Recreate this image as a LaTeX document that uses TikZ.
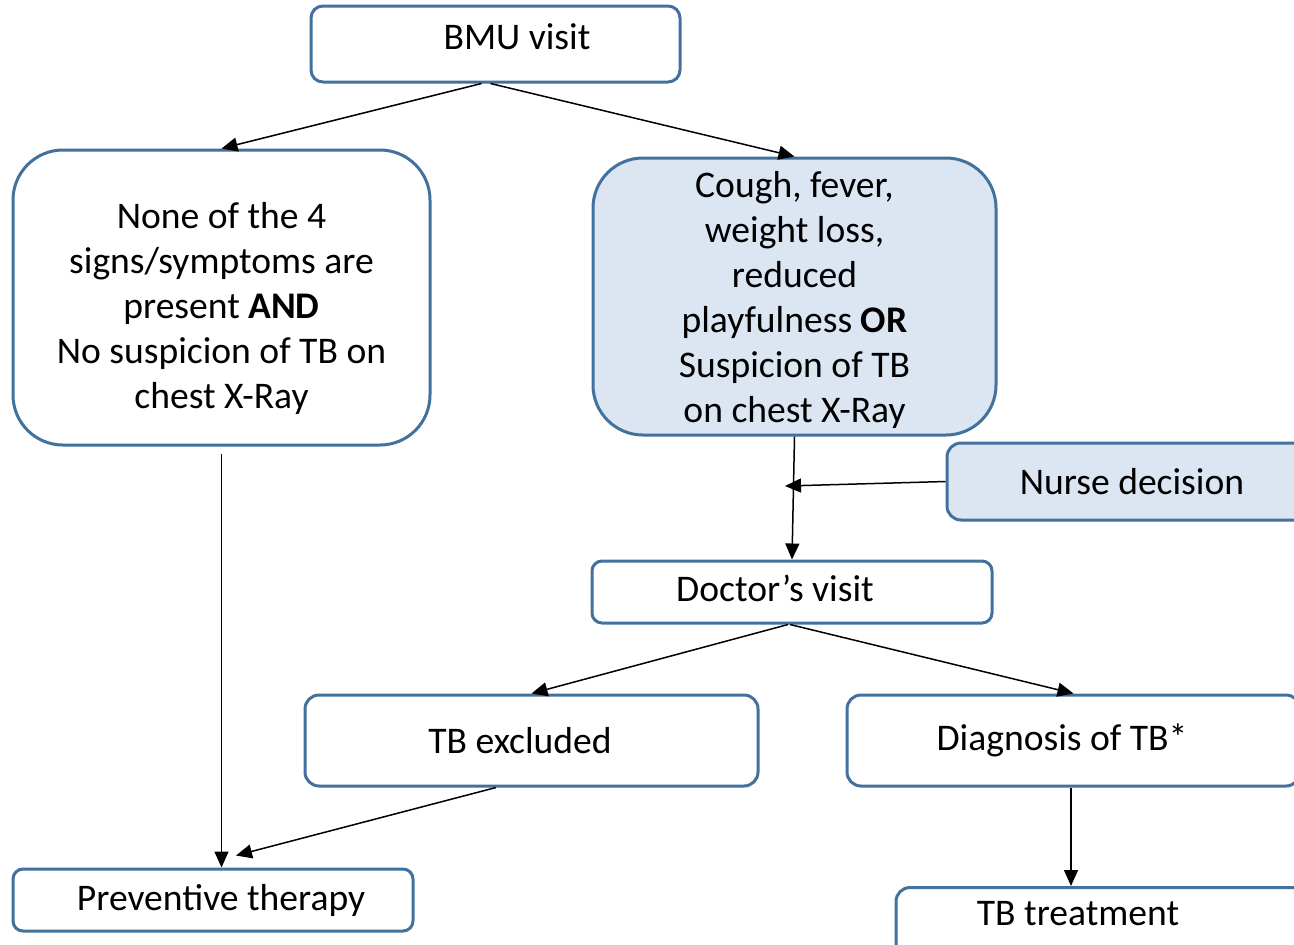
\documentclass[tikz,border=0pt]{standalone}
\usepackage{fontspec}
\setmainfont{Carlito}
\usepackage{tikz}
\usetikzlibrary{arrows.meta}

\definecolor{boxline}{RGB}{65,113,156}
\definecolor{boxfill}{RGB}{220,230,242}

\begin{document}
\begin{tikzpicture}[
        x = 0.5pt, y = -0.5pt, % one unit per pixel
        ->, % Arrow style
        > = {Triangle[length=8pt, width=7pt]}, % arrow head style
        line width = 0.75pt, % line style
        font = \fontsize{18.8}{22.5}\selectfont
      ]

      \tikzstyle{box}=[rectangle, draw=boxline, line width=1.5pt, fill=white, align=center, inner sep=0pt]
      \tikzstyle{bluebox}=[box, fill=boxfill]

      \useasboundingbox (0,0) rectangle (1294,944);

      \node[box, rounded corners=6pt, minimum width=184.5pt, minimum height=38pt, text depth=7pt] (bmu) at (495.5,44) {\hspace*{21.5pt}BMU visit};
      \node[box, rounded corners=25pt, minimum width=208.5pt, minimum height=147.5pt] (none) at (221.5,297.5)
        {\rule{0pt}{24pt}None of the 4\\signs/symptoms are\\present \textbf{AND}\\No suspicion of TB on\\chest X-Ray};
      \node[bluebox, rounded corners=25pt, minimum width=201.5pt, minimum height=138.5pt] (cough) at (794.5,296.5)
        {\rule{0pt}{17pt}Cough, fever,\\weight loss,\\reduced\\playfulness \textbf{OR}\\Suspicion of TB\\on chest X-Ray};
      \node[bluebox, rounded corners=7pt, minimum width=185pt, minimum height=38.5pt] (nurse) at (1132,481.5) {Nurse decision};
      \node[box, rounded corners=5pt, minimum width=200pt, minimum height=31pt, text depth=4pt] (doctor) at (792,592) {Doctor’s visit\hspace*{17pt}};
      \node[box, rounded corners=7pt, minimum width=226.5pt, minimum height=45.5pt] (excl) at (531.5,740.5) {TB excluded\hspace*{11.5pt}};
      \node[box, rounded corners=7pt, minimum width=226.5pt, minimum height=45.5pt] (diag) at (1073.5,740.5) {Diagnosis of TB*\hspace*{11.5pt}};
      \node[box, rounded corners=5pt, minimum width=200pt, minimum height=31pt] (prev) at (213,900) {\hspace*{8pt}Preventive therapy};
      \node[box, rounded corners=7pt, anchor=north, minimum width=210pt, text height=19pt, text depth=20pt] (treat) at (1106,886) {\hspace*{-28pt}TB treatment};

      \coordinate (join) at (785,486);

      \draw ([xshift=-7pt]bmu.south) -- (none.north);
      \draw ([xshift=-2.5pt]bmu.south) -- (cough.north);
      \draw (cough.south) -- (doctor.north);
      \draw (nurse.west) -- (join);
      \draw ([xshift=-2pt]doctor.south) -- (excl.north);
      \draw ([xshift=-1pt]doctor.south) -- (diag.north);
      \draw[shorten <=3.5pt] (none.south) -- (none.south |- prev.north);
      \draw ([xshift=-17.75pt]excl.south) -- ([xshift=11.5pt, yshift=6pt]prev.north);
      \draw ([xshift=-1.25pt]diag.south) -- ([xshift=-1.25pt]diag.south |- treat.north);

    \end{tikzpicture}
\end{document}
